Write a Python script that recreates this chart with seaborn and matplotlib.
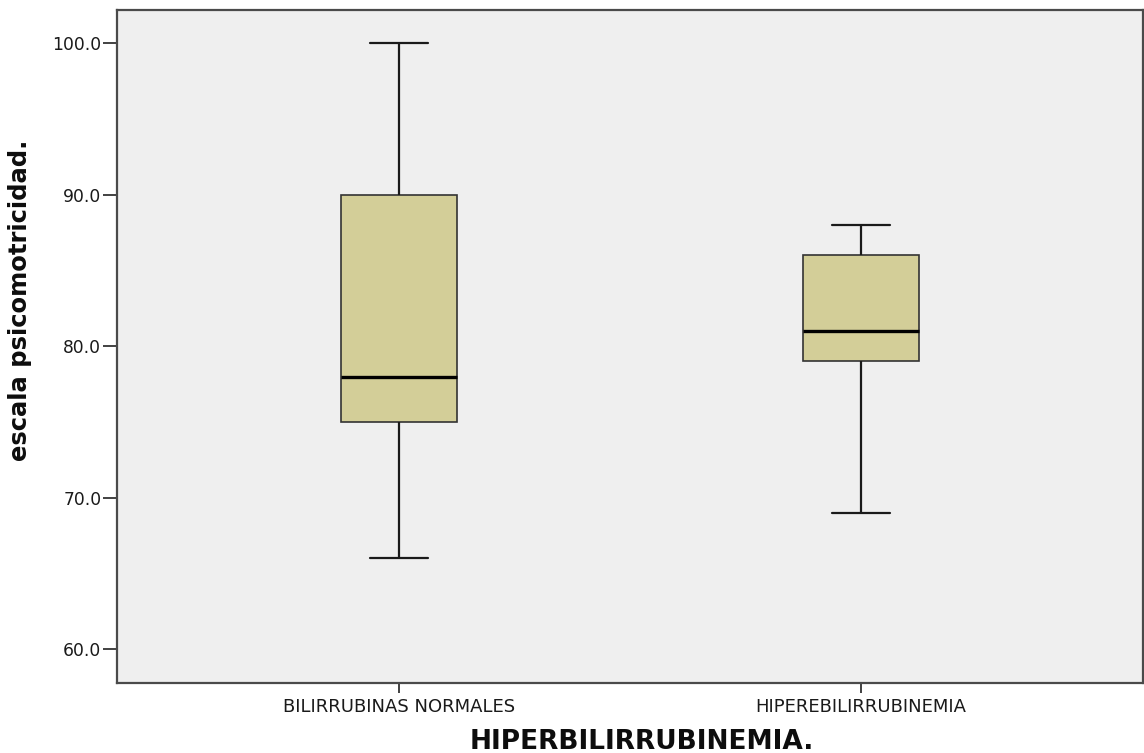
import matplotlib
matplotlib.use("Agg")
import matplotlib.pyplot as plt
import pandas as pd
import seaborn as sns

# Groups and psychomotor scale values (five-number summary per group)
groups = ["BILIRRUBINAS NORMALES", "HIPEREBILIRRUBINEMIA"]
normales = [66.0, 75.0, 78.0, 90.0, 100.0]
hiper = [69.0, 79.0, 81.0, 86.0, 88.0]
y_ticks = [60.0, 70.0, 80.0, 90.0, 100.0]

df = pd.DataFrame({
    "grupo": [groups[0]] * len(normales) + [groups[1]] * len(hiper),
    "escala": normales + hiper,
})

sns.set_theme(style="white")
plt.rcParams["font.family"] = ["DejaVu Sans"]

fig = plt.figure(figsize=(11.44, 7.53), dpi=100)
ax = fig.add_axes([0.1025, 0.0936, 0.8964, 0.8931])
ax.set_facecolor("#EFEFEF")

sns.boxplot(
    data=df, x="grupo", y="escala", order=groups,
    width=0.251, color="#D3CE98", saturation=1,
    linewidth=1.2, linecolor="#333333", whis=1.5, showfliers=False,
    medianprops=dict(color="black", linewidth=2.4),
    whiskerprops=dict(color="#1a1a1a", linewidth=1.6),
    capprops=dict(color="#1a1a1a", linewidth=1.6),
    ax=ax,
)

ax.set_xlim(-0.611, 1.610)
ax.set_ylim(57.8, 102.2)
ax.set_yticks(y_ticks)
ax.set_yticklabels([f"{v:.1f}" for v in y_ticks])

ax.tick_params(axis="y", which="major", direction="out", length=10, width=1.3,
               color="#333333", labelsize=12.3, labelcolor="#1a1a1a", pad=1.5, left=True)
ax.tick_params(axis="x", which="major", direction="out", length=7, width=1.3,
               color="#333333", labelsize=13, labelcolor="#1a1a1a", pad=4, bottom=True)

for side in ["left", "right", "top", "bottom"]:
    ax.spines[side].set_visible(True)
    ax.spines[side].set_color("#4a4a4a")
    ax.spines[side].set_linewidth(1.6)

ax.set_xlabel("HIPERBILIRRUBINEMIA.", fontsize=19, fontweight="bold", color="#0d0d0d")
ax.xaxis.set_label_coords(0.512, -0.069)
ax.set_ylabel("escala psicomotricidad.", fontsize=17.5, fontweight="bold", color="#0d0d0d")
ax.yaxis.set_label_coords(-0.083, 0.569)

fig.savefig("out.png", dpi=100)
